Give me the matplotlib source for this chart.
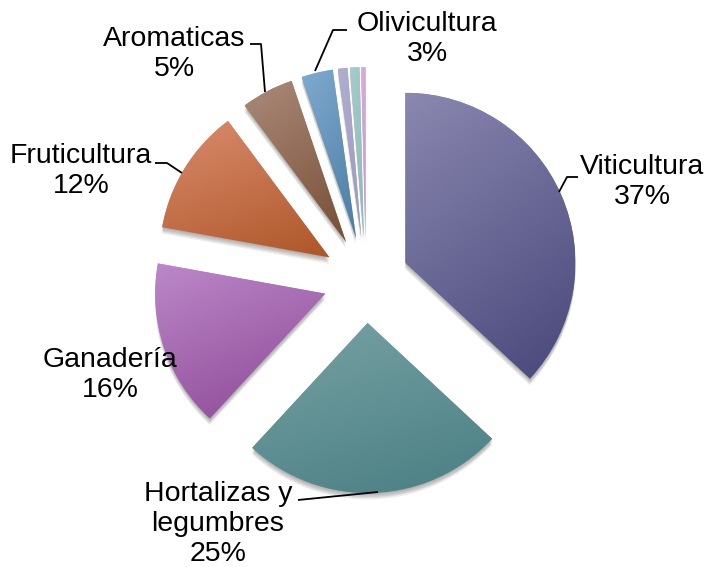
import numpy as np
import matplotlib
matplotlib.use("Agg")
import matplotlib.pyplot as plt
from matplotlib.colors import to_rgb
from matplotlib.patches import Wedge

# ---------------- data ----------------
categories = ["Viticultura", "Hortalizas y\nlegumbres", "Ganadería", "Fruticultura",
              "Aromaticas", "Olivicultura", "Otros 1", "Otros 2", "Otros 3"]
values = [37, 25, 16, 12, 5, 3, 0.9, 0.9, 0.4]
pct_labels = ["37%", "25%", "16%", "12%", "5%", "3%", "", "", ""]
show_label = [True, True, True, True, True, True, False, False, False]

# ---------------- style ----------------
light = ["#8a88b0", "#77a2a4", "#bc88c8", "#da8c6e", "#ab8a7a", "#80aacf",
         "#b0aed0", "#a6cccc", "#dcaede"]
dark = ["#48477a", "#4a7f83", "#8c4896", "#ae5628", "#774e35", "#4a7ca4",
        "#9c98c0", "#8cb8b8", "#c890cc"]

W, H = 708, 567
fig = plt.figure(figsize=(W / 100, H / 100), dpi=100)
ax = fig.add_axes([0, 0, 1, 1])

cx, cy, R = 366, H - 280, 170
explode = [43] * len(values)

wedges, _ = ax.pie(values, explode=explode, startangle=90, counterclock=False,
                   radius=R, center=(cx, cy), colors=light,
                   wedgeprops=dict(linewidth=0), frame=True)

# soft shadows below each wedge
for w in wedges:
    for k, (dx, dy) in enumerate([(0, -1), (0, -2.5), (0.5, -4), (-0.5, -5), (0, -6.5)]):
        sh = Wedge((w.center[0] + dx, w.center[1] + dy), w.r, w.theta1, w.theta2,
                   facecolor="#000000", alpha=0.07, linewidth=0, zorder=1)
        ax.add_patch(sh)

# gradient fills
for w, c1, c2 in zip(wedges, light, dark):
    w.set_zorder(2)
    bb = w.get_path().get_extents()
    n = 128
    u = np.linspace(0, 1, n)[None, :]
    v = np.linspace(0, 1, n)[:, None]
    t = np.clip(0.7 * (1 - v) + 0.3 * u, 0, 1)
    img = (1 - t)[..., None] * np.array(to_rgb(c1)) + t[..., None] * np.array(to_rgb(c2))
    im = ax.imshow(img, extent=(bb.x0, bb.x1, bb.y0, bb.y1), origin="lower",
                   interpolation="bilinear", zorder=3, aspect="auto")
    im.set_clip_path(w)

# ---------------- labels (layout) ----------------
label_pos = [(642, 182), (218, 524), (110, 375), (81, 171), (174, 54), (427, 39)]
leaders = [
    [(559, 192), (567, 177), (578, 177)],
    [(298, 500), (378, 492)],
    None,
    [(155, 163), (167, 163), (182, 173)],
    [(250, 44), (261, 44), (265, 92)],
    [(315, 71), (333, 30), (347, 30)],
]
font = dict(family=["Liberation Sans", "DejaVu Sans"], size=20.5, color="#000000")
for i, (name, pct) in enumerate(zip(categories, pct_labels)):
    if not show_label[i]:
        continue
    x, y = label_pos[i]
    ax.text(x, H - y, f"{name}\n{pct}", ha="center", va="center",
            linespacing=1.22, zorder=5, **font)
    if leaders[i] is not None:
        xs = [p[0] for p in leaders[i]]
        ys = [H - p[1] for p in leaders[i]]
        ax.plot(xs, ys, color="black", lw=1.3, zorder=5, solid_capstyle="butt")

ax.set_xlim(0, W)
ax.set_ylim(0, H)
ax.set_aspect("auto")
ax.set_axis_off()
fig.savefig("out.png", dpi=100, facecolor="white")
